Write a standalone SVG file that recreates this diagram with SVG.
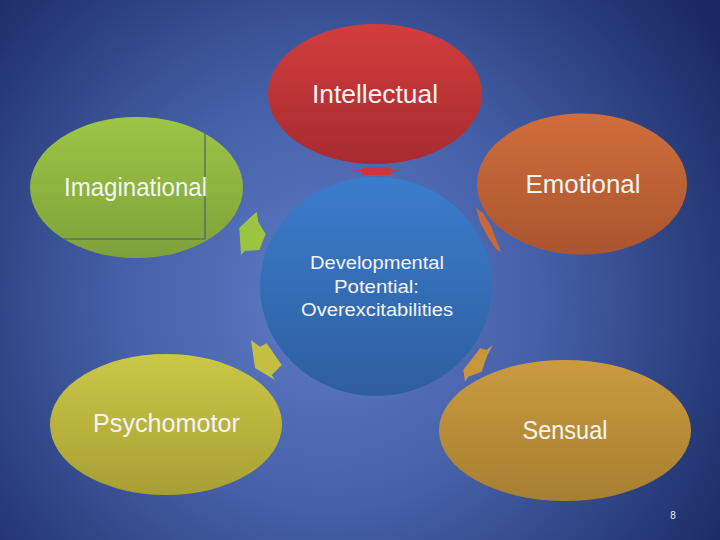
<svg xmlns="http://www.w3.org/2000/svg" width="720" height="540" viewBox="0 0 720 540">
  <defs>
    <radialGradient id="bg" cx="330" cy="300" r="470" gradientUnits="userSpaceOnUse">
      <stop offset="0" stop-color="#5f7cc6"/>
      <stop offset="0.45" stop-color="#4560a8"/>
      <stop offset="1" stop-color="#1a2962"/>
    </radialGradient>
    <linearGradient id="gRed" x1="0" y1="0" x2="0" y2="1">
      <stop offset="0" stop-color="#d23d3d"/>
      <stop offset="1" stop-color="#a72b30"/>
    </linearGradient>
    <linearGradient id="gOrange" x1="0" y1="0" x2="0" y2="1">
      <stop offset="0" stop-color="#d06e3c"/>
      <stop offset="1" stop-color="#a9552e"/>
    </linearGradient>
    <linearGradient id="gGreen" x1="0" y1="0" x2="0" y2="1">
      <stop offset="0" stop-color="#9dc545"/>
      <stop offset="1" stop-color="#7ea23a"/>
    </linearGradient>
    <linearGradient id="gYellow" x1="0" y1="0" x2="0" y2="1">
      <stop offset="0" stop-color="#cac846"/>
      <stop offset="1" stop-color="#a89f35"/>
    </linearGradient>
    <linearGradient id="gGold" x1="0" y1="0" x2="0" y2="1">
      <stop offset="0" stop-color="#cb9b40"/>
      <stop offset="1" stop-color="#a67f30"/>
    </linearGradient>
    <linearGradient id="gBlue" x1="0" y1="0" x2="0" y2="1">
      <stop offset="0" stop-color="#3a7dcd"/>
      <stop offset="1" stop-color="#2e5e9f"/>
    </linearGradient>
    <clipPath id="clipImag">
      <ellipse cx="136.5" cy="187.5" rx="106.5" ry="70.5"/>
    </clipPath>
  </defs>
  <style>
    .lbl { font-family: "Liberation Sans", "DejaVu Sans", sans-serif; fill: #f4f4f4; text-anchor: middle; }
    .big { font-size: 25px; }
    .mid { font-size: 18px; }
  </style>

  <rect x="0" y="0" width="720" height="540" fill="url(#bg)"/>

  <g id="connectors">
    <polygon points="352,170.7 361,170 363,167.5 390,167.5 392,170 400,170.5 392,172 390,175 363,175 361,171.5" fill="#c8373a"/>
    <polygon points="476,208 483,213 491,226 496,239 501,252 496,249 488,237 480,222" fill="#c9683a"/>
    <polygon points="256.7,211.7 258.3,221.7 265.7,234.3 259.3,250 245,251 241,255 239.3,227.7" fill="#9cc443"/>
    <polygon points="251,340 260,346.7 266.7,343.3 281.7,365 271.7,375 275,380 255,368" fill="#c4bf42"/>
    <polygon points="492.7,345 486.7,356.7 481.7,371.7 468.3,376.7 465,381.7 463.3,370 480,348.3 486.7,350" fill="#c9963d"/>
  </g>

  <g id="intellectual">
    <ellipse cx="375" cy="94" rx="107" ry="70" fill="url(#gRed)"/>
    <text class="lbl big" x="375" y="103" textLength="126" lengthAdjust="spacingAndGlyphs">Intellectual</text>
  </g>

  <g id="emotional">
    <ellipse cx="582" cy="184" rx="105" ry="70.5" fill="url(#gOrange)"/>
    <text class="lbl big" x="583" y="193" textLength="115" lengthAdjust="spacingAndGlyphs">Emotional</text>
  </g>

  <g id="imaginational">
    <ellipse cx="136.5" cy="187.5" rx="106.5" ry="70.5" fill="url(#gGreen)"/>
    <g clip-path="url(#clipImag)" fill="none" stroke="#4a5f6a" stroke-width="1.2">
      <polyline points="205,100 205,239 20,239"/>
    </g>
    <text class="lbl big" x="135.5" y="196" textLength="143" lengthAdjust="spacingAndGlyphs">Imaginational</text>
  </g>

  <g id="psychomotor">
    <ellipse cx="166" cy="424.5" rx="116" ry="70.5" fill="url(#gYellow)"/>
    <text class="lbl big" x="166.5" y="432" textLength="147" lengthAdjust="spacingAndGlyphs">Psychomotor</text>
  </g>

  <g id="sensual">
    <ellipse cx="565" cy="430.5" rx="126" ry="70.5" fill="url(#gGold)"/>
    <text class="lbl big" x="565" y="439" textLength="85" lengthAdjust="spacingAndGlyphs">Sensual</text>
  </g>

  <g id="center">
    <ellipse cx="376" cy="286.5" rx="116" ry="109.5" fill="url(#gBlue)"/>
    <text class="lbl mid" x="377" y="269" textLength="134" lengthAdjust="spacingAndGlyphs">Developmental</text>
    <text class="lbl mid" x="376.5" y="292.5" textLength="85" lengthAdjust="spacingAndGlyphs">Potential:</text>
    <text class="lbl mid" x="377" y="316" textLength="152" lengthAdjust="spacingAndGlyphs">Overexcitabilities</text>
  </g>

  <text x="673" y="519" font-family="Liberation Sans, sans-serif" font-size="10" fill="#e8ecf4" text-anchor="middle">8</text>
</svg>
